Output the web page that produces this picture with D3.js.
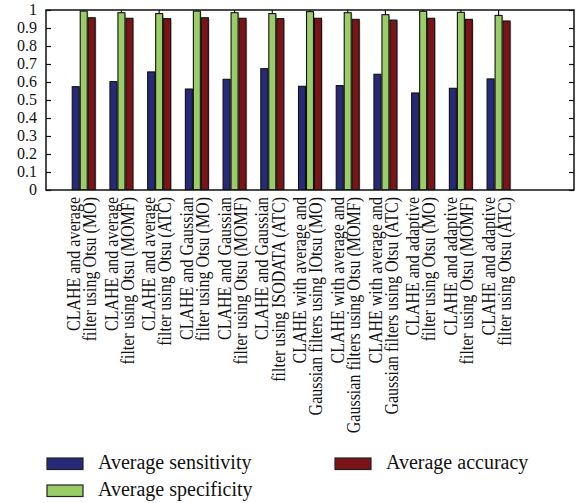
<!DOCTYPE html>
<html>
<head>
<meta charset="utf-8">
<script src="https://cdn.jsdelivr.net/npm/d3@7"></script>
<style>
  body { margin: 0; background: #fff; }
  text { font-family: "Liberation Serif", "Times New Roman", serif; fill: #111; }
</style>
</head>
<body>
<svg id="chart" width="581" height="503"></svg>
<script>
// categories, two lines each
var categories = [
  ["CLAHE and average", "filter using Otsu (MO)"],
  ["CLAHE and average", "filter using Otsu (MOMF)"],
  ["CLAHE and average", "filter using Otsu (ATC)"],
  ["CLAHE and Gaussian", "filter using Otsu (MO)"],
  ["CLAHE and Gaussian", "filter using Otsu (MOMF)"],
  ["CLAHE and Gaussian", "filter using ISODATA (ATC)"],
  ["CLAHE with average and", "Gaussian filters using IOtsu (MO)"],
  ["CLAHE with average and", "Gaussian filters using Otsu (MOMF)"],
  ["CLAHE with average and", "Gaussian filters using Otsu (ATC)"],
  ["CLAHE and adaptive", "filter using Otsu (MO)"],
  ["CLAHE and adaptive", "filter using Otsu (MOMF)"],
  ["CLAHE and adaptive", "filter using Otsu (ATC)"]
];
var sensitivity = [0.574, 0.602, 0.656, 0.561, 0.615, 0.674, 0.576, 0.580, 0.643, 0.539, 0.565, 0.617];
var specificity = [0.994, 0.985, 0.980, 0.994, 0.985, 0.980, 0.991, 0.985, 0.974, 0.993, 0.987, 0.970];
var accuracy    = [0.957, 0.954, 0.952, 0.957, 0.954, 0.952, 0.954, 0.948, 0.944, 0.954, 0.948, 0.939];
var specificityErr = [0.02, 0.02, 0.03, 0.02, 0.02, 0.03, 0.02, 0.03, 0.03, 0.02, 0.02, 0.04];
var seriesNames = ["Average sensitivity", "Average specificity", "Average accuracy"];
var seriesColors = ["#262a78", "#9acd68", "#7b1417"];
var yTicks = [0, 0.1, 0.2, 0.3, 0.4, 0.5, 0.6, 0.7, 0.8, 0.9, 1];

var svg = d3.select("#chart");
var pLeft = 46, pRight = 574, pTop = 10, pBottom = 190;

var x = d3.scaleLinear().domain([0, 14]).range([pLeft, pRight]);
var y = d3.scaleLinear().domain([0, 1]).range([pBottom, pTop]);
var barW = 0.185, step = 0.212;

var series = [sensitivity, specificity, accuracy];

svg.append("clipPath").attr("id", "clip")
  .append("rect").attr("x", pLeft).attr("y", pTop).attr("width", pRight - pLeft).attr("height", pBottom - pTop);

var plot = svg.append("g").attr("clip-path", "url(#clip)");

series.forEach(function(vals, j) {
  var g = plot.append("g");
  // soft shadow
  g.selectAll("rect.sh").data(vals).enter().append("rect")
    .attr("x", function(d, i) { return x(i + 1 + (j - 1) * step - barW / 2) + 1.2; })
    .attr("y", function(d) { return y(d) + 1.2; })
    .attr("width", x(barW) - x(0))
    .attr("height", function(d) { return y(0) - y(d); })
    .attr("fill", "#999").attr("opacity", 0.6);
  g.selectAll("rect.bar").data(vals).enter().append("rect")
    .attr("x", function(d, i) { return x(i + 1 + (j - 1) * step - barW / 2); })
    .attr("y", function(d) { return y(d); })
    .attr("width", x(barW) - x(0))
    .attr("height", function(d) { return y(0) - y(d); })
    .attr("fill", seriesColors[j])
    .attr("stroke", "#111").attr("stroke-width", 1.1);
});

// error bars on specificity
plot.selectAll("line.err").data(specificity).enter().append("line")
  .attr("x1", function(d, i) { return x(i + 1); })
  .attr("x2", function(d, i) { return x(i + 1); })
  .attr("y1", function(d) { return y(d); })
  .attr("y2", function(d, i) { return y(d + specificityErr[i]); })
  .attr("stroke", "#111").attr("stroke-width", 1.2);

// frame
svg.append("rect").attr("x", pLeft).attr("y", pTop)
  .attr("width", pRight - pLeft).attr("height", pBottom - pTop)
  .attr("fill", "none").attr("stroke", "#111").attr("stroke-width", 1.5);

// y axes, ticks inside
svg.append("g").attr("transform", "translate(" + pLeft + ",0)")
  .call(d3.axisRight(y).tickValues(yTicks).tickSize(5).tickFormat(""))
  .call(function(g) { g.select(".domain").remove(); });
svg.append("g").attr("transform", "translate(" + pRight + ",0)")
  .call(d3.axisLeft(y).tickValues(yTicks).tickSize(5).tickFormat(""))
  .call(function(g) { g.select(".domain").remove(); });
svg.selectAll(".tick line").attr("stroke", "#111").attr("stroke-width", 1.2);

svg.append("g").selectAll("text").data(yTicks).enter().append("text")
  .attr("x", 37).attr("y", function(d) { return y(d); })
  .attr("dy", "0.33em").attr("text-anchor", "end")
  .style("font-size", "16px")
  .text(function(d) { return d3.format("")(d); });

// rotated category labels
var lab = svg.append("g").selectAll("text").data(categories).enter().append("text")
  .attr("transform", function(d, i) { return "translate(" + x(i + 1) + ",197) rotate(-90) scale(1,1.12)"; })
  .attr("text-anchor", "end")
  .style("font-size", "16px");
lab.append("tspan").attr("x", 0).attr("y", -3.5).text(function(d) { return d[0]; });
lab.append("tspan").attr("x", 0).attr("y", 11).text(function(d) { return d[1]; });

// legend
var legendPos = [[47, 458], [47, 485], [335, 458]];
var leg = svg.append("g").selectAll("g").data(seriesNames).enter().append("g")
  .attr("transform", function(d, i) { return "translate(" + legendPos[i][0] + "," + legendPos[i][1] + ")"; });
leg.append("rect").attr("width", 36).attr("height", 11.5)
  .attr("fill", function(d, i) { return seriesColors[i]; })
  .attr("stroke", "#222").attr("stroke-width", 1.2);
leg.append("text").attr("x", 51).attr("y", 11).style("font-size", "20px")
  .text(function(d) { return d; });
</script>
</body>
</html>
